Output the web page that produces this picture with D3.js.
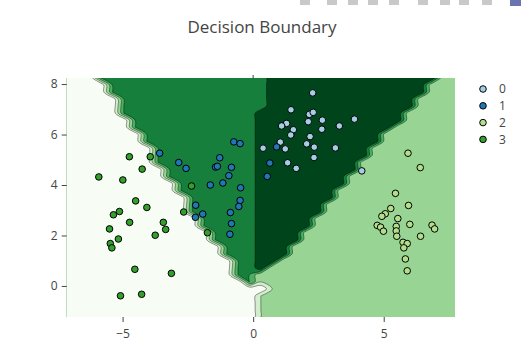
<!DOCTYPE html>
<html>
<head>
<meta charset="utf-8">
<script src="https://cdn.jsdelivr.net/npm/d3@7"></script>
<style>
  html, body { margin: 0; padding: 0; background: #fff; }
  svg { display: block; font-family: "Open Sans", verdana, arial, sans-serif; }
</style>
</head>
<body>
<script>
// ********************************** //
// ** Data
// ********************************** //
const gridX = [-7.14, 7.73]; // first / last mesh column
const gridY = [-1.23, 8.24]; // bottom / top mesh row
// predicted class on a 35 x 35 mesh, top row first, as [class, run length]
const gridRuns = [
  [[3,3],[1,15],[0,15],[2,2]],
  [[3,4],[1,14],[0,14],[2,3]],
  [[3,4],[1,14],[0,14],[2,3]],
  [[3,5],[1,13],[0,13],[2,4]],
  [[3,5],[1,13],[0,13],[2,4]],
  [[3,5],[1,12],[0,13],[2,5]],
  [[3,6],[1,11],[0,13],[2,5]],
  [[3,6],[1,11],[0,12],[2,6]],
  [[3,7],[1,10],[0,11],[2,7]],
  [[3,7],[1,10],[0,11],[2,7]],
  [[3,8],[1,9],[0,10],[2,8]],
  [[3,8],[1,9],[0,10],[2,8]],
  [[3,8],[1,9],[0,9],[2,9]],
  [[3,9],[1,8],[0,9],[2,9]],
  [[3,9],[1,8],[0,8],[2,10]],
  [[3,10],[1,7],[0,8],[2,10]],
  [[3,10],[1,7],[0,7],[2,11]],
  [[3,11],[1,6],[0,7],[2,11]],
  [[3,11],[1,6],[0,6],[2,12]],
  [[3,11],[1,6],[0,6],[2,12]],
  [[3,12],[1,5],[0,5],[2,13]],
  [[3,12],[1,5],[0,5],[2,13]],
  [[3,13],[1,4],[0,4],[2,14]],
  [[3,13],[1,4],[0,4],[2,14]],
  [[3,14],[1,3],[0,3],[2,15]],
  [[3,14],[1,3],[0,3],[2,15]],
  [[3,15],[1,2],[0,2],[2,16]],
  [[3,15],[1,2],[0,1],[2,17]],
  [[3,15],[1,2],[2,18]],
  [[3,16],[1,1],[2,18]],
  [[3,18],[2,17]],
  [[3,17],[2,18]],
  [[3,17],[2,18]],
  [[3,17],[2,18]],
  [[3,17],[2,18]]
];
const contourLevels = [0.5, 1.0001, 1.5, 2.0001, 2.5];
const greensStops = [0, 0.125, 0.25, 0.375, 0.5, 0.625, 0.75, 0.875, 1];
const greensColors = ["rgb(0,68,27)", "rgb(0,109,44)", "rgb(35,139,69)", "rgb(65,171,93)",
  "rgb(116,196,118)", "rgb(161,217,155)", "rgb(199,233,192)", "rgb(229,245,224)", "rgb(247,252,245)"];

const classLabels = ["0", "1", "2", "3"];
const classColors = ["#a6cee3", "#1f78b4", "#b2df8a", "#33a02c"];

const points0 = [[2.28,7.65],[1.45,6.98],[2.15,6.80],[2.30,6.88],[1.28,6.44],[1.09,6.34],[2.11,6.51],
  [2.65,6.57],[1.54,6.19],[2.63,6.21],[3.30,6.34],[3.88,6.61],[1.44,5.98],[2.18,5.92],[1.04,5.70],
  [2.05,5.63],[0.38,5.46],[1.23,5.43],[2.34,5.50],[3.15,5.47],[1.32,4.88],[2.33,5.09],[1.65,4.66],[4.16,4.56]];
const points1 = [[-3.58,5.26],[-2.85,4.89],[-2.57,4.66],[-1.28,5.08],[-1.44,4.71],[-1.37,4.74],[-0.83,4.70],
  [-0.93,4.37],[-0.74,5.71],[-0.50,5.64],[-1.64,4.00],[-1.16,4.08],[-0.48,3.89],[-0.50,3.39],[-0.55,3.15],
  [-0.87,2.91],[-2.20,3.20],[-1.93,2.85],[-2.21,2.72],[-0.83,2.47],[-0.89,2.05],[0.90,5.51],[0.64,4.87],[0.54,4.34]];
const points2 = [[5.93,5.26],[6.40,4.69],[5.45,3.67],[5.95,3.19],[5.27,3.07],[5.06,2.86],[4.93,2.76],
  [5.54,2.67],[4.75,2.40],[4.88,2.33],[4.99,2.17],[5.48,2.36],[5.48,2.18],[5.50,1.97],[6.00,2.44],
  [6.85,2.41],[6.95,2.26],[6.41,1.97],[5.74,1.73],[5.90,1.68],[5.77,1.51],[5.83,1.07],[5.90,0.60]];
const points3 = [[-4.74,5.12],[-3.94,5.12],[-4.25,4.63],[-5.91,4.32],[-4.99,4.20],[-2.36,3.96],[-4.50,3.37],
  [-4.07,3.11],[-5.12,2.95],[-5.35,2.82],[-2.66,2.93],[-4.73,2.52],[-3.44,2.52],[-3.35,2.24],[-5.50,2.26],
  [-3.75,2.01],[-5.16,1.86],[-5.47,1.68],[-5.41,1.51],[-4.53,0.66],[-3.13,0.50],[-5.08,-0.39],[-4.27,-0.33],[-1.75,2.11]];

const xTicks = [-5, 0, 5];
const yTicks = [0, 2, 4, 6, 8];
const titleText = "Decision Boundary";

// ********************************** //
// ** Layout
// ********************************** //
const W = 528, H = 362;
const plot = { left: 66.7, right: 455, top: 78, bottom: 317 };
const ink = "#444";

const svg = d3.select("body").append("svg").attr("width", W).attr("height", H);

const x = d3.scaleLinear().domain(gridX).range([plot.left, plot.right]);
const y = d3.scaleLinear().domain(gridY).range([plot.bottom, plot.top]);
const greens = d3.scaleLinear().domain(greensStops).range(greensColors);

// ********************************** //
// ** Contour of the class mesh
// ********************************** //
const values = gridRuns.flatMap(row => row.flatMap(([c, n]) => Array(n).fill(c)));
const nx = d3.sum(gridRuns[0], r => r[1]), ny = gridRuns.length;
gridRuns.forEach((row, i) => {
  if (d3.sum(row, r => r[1]) !== nx) throw new Error("mesh row " + i + " has wrong length");
});
const hx = (gridX[1] - gridX[0]) / (nx - 1);
const hy = (gridY[1] - gridY[0]) / (ny - 1);

// d3.contours puts each value at the cell centre (i + 0.5)
const ringLine = d3.line()
  .x(p => x(gridX[0] + (p[0] - 0.5) * hx))
  .y(p => y(gridY[1] - (p[1] - 0.5) * hy))
  .curve(d3.curveCatmullRomClosed.alpha(0.5));
const contourPath = c => c.coordinates
  .flatMap(poly => poly.map(ring => ringLine(ring.slice(0, -1))))
  .join("");

const contours = d3.contours().size([nx, ny]).thresholds(contourLevels)(values);

svg.append("clipPath").attr("id", "clip")
  .append("rect")
  .attr("x", plot.left).attr("y", plot.top)
  .attr("width", plot.right - plot.left).attr("height", plot.bottom - plot.top);

const mesh = svg.append("g").attr("clip-path", "url(#clip)");
mesh.append("rect")
  .attr("x", plot.left).attr("y", plot.top)
  .attr("width", plot.right - plot.left).attr("height", plot.bottom - plot.top)
  .attr("fill", greens(0));

mesh.selectAll("path")
  .data(contours)
  .join("path")
  .attr("d", contourPath)
  .attr("fill-rule", "evenodd")
  .attr("fill", (d, i) => greens((i + 1) / contourLevels.length))
  .attr("stroke", "#000")
  .attr("stroke-opacity", 0.8)
  .attr("stroke-width", 0.5);

// ********************************** //
// ** Axes
// ********************************** //
const xAxis = svg.append("g").attr("transform", `translate(0,${plot.bottom})`)
  .call(d3.axisBottom(x).tickValues(xTicks).tickSize(5).tickPadding(7)
    .tickFormat(d => d < 0 ? "\u2212" + Math.abs(d) : d));
const yAxis = svg.append("g").attr("transform", `translate(${plot.left},0)`)
  .call(d3.axisLeft(y).tickValues(yTicks).tickSize(5).tickPadding(4));
[xAxis, yAxis].forEach(a => {
  a.select(".domain").remove();
  a.selectAll("line").attr("stroke", ink);
  a.selectAll("text").attr("fill", ink).style("font-size", "12px")
    .style("font-family", '"Open Sans", verdana, arial, sans-serif');
});

// zero line peeking above the mesh
svg.append("line")
  .attr("x1", x(0)).attr("x2", x(0))
  .attr("y1", plot.top - 3).attr("y2", plot.top)
  .attr("stroke", ink).attr("stroke-width", 1);

// ********************************** //
// ** Points
// ********************************** //
const series = [points0, points1, points2, points3];
series.forEach((pts, k) => {
  svg.append("g")
    .selectAll("circle")
    .data(pts)
    .join("circle")
    .attr("cx", d => x(d[0]))
    .attr("cy", d => y(d[1]))
    .attr("r", 3.3)
    .attr("fill", classColors[k])
    .attr("stroke", "#000")
    .attr("stroke-width", 1);
});

// ********************************** //
// ** Title, legend, modebar
// ********************************** //
svg.append("text")
  .attr("x", 262).attr("y", 33)
  .attr("text-anchor", "middle")
  .attr("fill", ink)
  .style("font-size", "17px")
  .text(titleText);

const legend = svg.append("g").attr("transform", "translate(483,89)");
const item = legend.selectAll("g")
  .data(classLabels)
  .join("g")
  .attr("transform", (d, i) => `translate(0,${i * 16.8})`);
item.append("circle")
  .attr("r", 3.3)
  .attr("fill", (d, i) => classColors[i])
  .attr("stroke", "#000")
  .attr("stroke-width", 1);
item.append("text")
  .attr("x", 16).attr("y", 4.3)
  .attr("fill", ink)
  .style("font-size", "12px")
  .text(d => d);

const modebarX = [300, 327, 348, 368, 389, 418, 440, 459, 482];
svg.append("g").selectAll("rect")
  .data(modebarX)
  .join("rect")
  .attr("x", d => d).attr("y", 0)
  .attr("width", 10).attr("height", 5)
  .attr("fill", "#c9c9c9");
svg.append("rect")
  .attr("x", 510).attr("y", 0)
  .attr("width", 11).attr("height", 6)
  .attr("fill", "#6a74b0");
</script>
</body>
</html>
